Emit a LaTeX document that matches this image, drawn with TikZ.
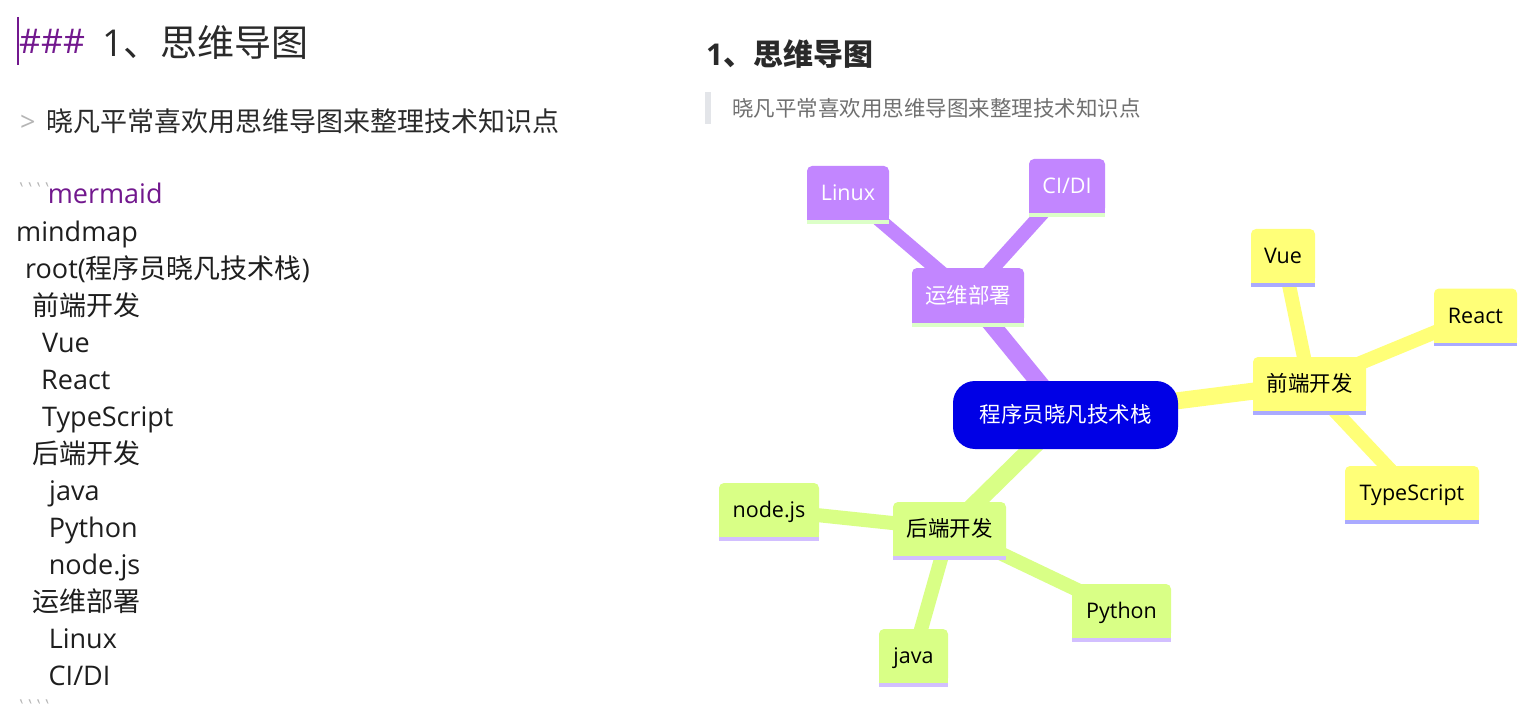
\documentclass[tikz,border=0pt]{standalone}
\usepackage{fontspec}
\setmainfont{Open Sans}
\newfontfamily\rawfont{Open Sans}
\newfontfamily\cjk{Noto Sans CJK SC}
\usetikzlibrary{backgrounds}
\definecolor{rootblue}{HTML}{0000E6}
\definecolor{secpurple}{HTML}{C286FF}
\definecolor{secyellow}{HTML}{FFFF78}
\definecolor{secgreen}{HTML}{D9FF86}
\definecolor{strippurple}{HTML}{DCFFC8}
\definecolor{stripyellow}{HTML}{AAAAFF}
\definecolor{stripgreen}{HTML}{D2BFFF}
\definecolor{mdpurple}{HTML}{72188E}
\definecolor{txtdark}{HTML}{1E1E1E}
\definecolor{titledark}{HTML}{2A2A2A}
\definecolor{quotegray}{HTML}{707070}
\definecolor{tickgray}{HTML}{B5B5B5}
\definecolor{bargray}{HTML}{E3E5E9}
\tikzset{
  mm/.style={rectangle, rounded corners=5pt, inner sep=0pt, text height=15pt,
    text depth=0pt, minimum height=54pt, font=\fontsize{21.5}{26}\selectfont},
  srctext/.style={anchor=base west, inner sep=0pt,
    font=\fontsize{27}{32}\selectfont, text=txtdark},
  link0/.style={line width=17pt},
  link1/.style={line width=14pt},
}
\begin{document}
\begin{tikzpicture}[x=1pt,y=-1pt]
\useasboundingbox (0,0) rectangle (1534,722);
\begin{scope}[on background layer]
  \fill[white] (0,0) rectangle (1534,722);
\end{scope}

% ---------------- left: markdown source ----------------
\draw[mdpurple, line width=1.5pt] (18,17) -- (18,65);
\node[anchor=base west, inner sep=0pt, font=\fontsize{34}{40}\selectfont, text=mdpurple] (hashes) at (19,54) {\#\#\#};
\node[anchor=base west, inner sep=0pt, font=\fontsize{37}{44}\selectfont, text=titledark] (ltitle) at (102,57) {1{\cjk 、思维导图}};
\node[srctext, text=tickgray] (lgt) at (20,131.5) {>};
\node[srctext, text=titledark] (lquote) at (46,131.5) {\cjk 晓凡平常喜欢用思维导图来整理技术知识点};
\node[srctext, text=tickgray] (tick1) at (17,204) {\rawfont\scalebox{0.55}[1]{````}};
\node[srctext, text=mdpurple] (mermaid) at (47.6,204) {mermaid};
\node[srctext] (l1) at (16,241) {mindmap};
\node[srctext] (l2) at (25,278) {root({\cjk 程序员晓凡技术栈})};
\node[srctext] (l3) at (32.5,315) {\cjk 前端开发};
\node[srctext] (l4) at (42,352) {Vue};
\node[srctext] (l5) at (41,389) {React};
\node[srctext] (l6) at (42,426) {TypeScript};
\node[srctext] (l7) at (32.5,463) {\cjk 后端开发};
\node[srctext] (l8) at (49,500) {java};
\node[srctext] (l9) at (48.6,537) {Python};
\node[srctext] (l10) at (48.6,574) {node.js};
\node[srctext] (l11) at (32.5,611) {\cjk 运维部署};
\node[srctext] (l12) at (48.6,648) {Linux};
\node[srctext] (l13) at (48.5,685) {CI/DI};
\node[srctext, text=tickgray, text depth=0pt] (tick2) at (17,720) {\rawfont\scalebox{0.55}[1]{\smash{````}}};

% ---------------- right: rendered preview ----------------
\node[anchor=base west, inner sep=0pt, font=\fontsize{30}{35}\selectfont\bfseries, text=titledark] (rtitle) at (706,66) {1{\cjk 、思维导图}};
\fill[bargray] (705,92) rectangle (711,124);
\node[anchor=base west, inner sep=0pt, font=\fontsize{21.5}{26}\selectfont, text=quotegray] (rquote) at (732,117) {\cjk 晓凡平常喜欢用思维导图来整理技术知识点};

% mindmap nodes
\node[mm, fill=rootblue, text=white, minimum width=225pt, minimum height=68pt, rounded corners=22pt] (root) at (1065.5,415) {\cjk 程序员晓凡技术栈};

\node[mm, fill=secyellow, minimum width=113pt] (fe) at (1309.5,384) {\cjk 前端开发};
\node[mm, fill=secyellow, minimum width=64pt] (vue) at (1283,256) {Vue};
\node[mm, fill=secyellow, minimum width=83pt] (react) at (1475.5,315.5) {React};
\node[mm, fill=secyellow, minimum width=134pt] (ts) at (1412,493) {TypeScript};

\node[mm, fill=secgreen, minimum width=113pt] (be) at (949.5,529) {\cjk 后端开发};
\node[mm, fill=secgreen, minimum width=100pt] (nodejs) at (769,510) {node.js};
\node[mm, fill=secgreen, minimum width=69pt] (java) at (913.5,656) {java};
\node[mm, fill=secgreen, minimum width=99pt] (python) at (1121.5,611) {Python};

\node[mm, fill=secpurple, text=white, minimum width=112pt, minimum height=55pt] (ops) at (968,295.5) {\cjk 运维部署};
\node[mm, fill=secpurple, text=white, minimum width=82pt] (linux) at (848,193) {Linux};
\node[mm, fill=secpurple, text=white, minimum width=76pt] (cidi) at (1067,186) {CI/DI};

% square bottoms and underline strips
\foreach \nname/\fcol/\scol in {fe/secyellow/stripyellow, vue/secyellow/stripyellow,
    react/secyellow/stripyellow, ts/secyellow/stripyellow,
    be/secgreen/stripgreen, nodejs/secgreen/stripgreen, java/secgreen/stripgreen,
    python/secgreen/stripgreen,
    ops/secpurple/strippurple, linux/secpurple/strippurple, cidi/secpurple/strippurple}{
  \fill[\fcol] ([yshift=6pt]\nname.south west) rectangle (\nname.south east);
  \fill[\scol] (\nname.south west) rectangle ([yshift=-3.5pt]\nname.south east);
}

% connectors
\begin{scope}[on background layer]
  \draw[link0, secyellow] (root.center) -- (fe.center);
  \draw[link0, secgreen] (root.center) -- (be.center);
  \draw[link0, secpurple] (root.center) -- (ops.center);
  \draw[link1, secyellow] (fe.center) -- (vue.center);
  \draw[link1, secyellow] (fe.center) -- (react.center);
  \draw[link1, secyellow] (fe.center) -- (ts.center);
  \draw[link1, secgreen] (be.center) -- (nodejs.center);
  \draw[link1, secgreen] (be.center) -- (java.center);
  \draw[link1, secgreen] (be.center) -- (python.center);
  \draw[link1, secpurple] (ops.center) -- (linux.center);
  \draw[link1, secpurple] (ops.center) -- (cidi.center);
\end{scope}
\end{tikzpicture}
\end{document}
